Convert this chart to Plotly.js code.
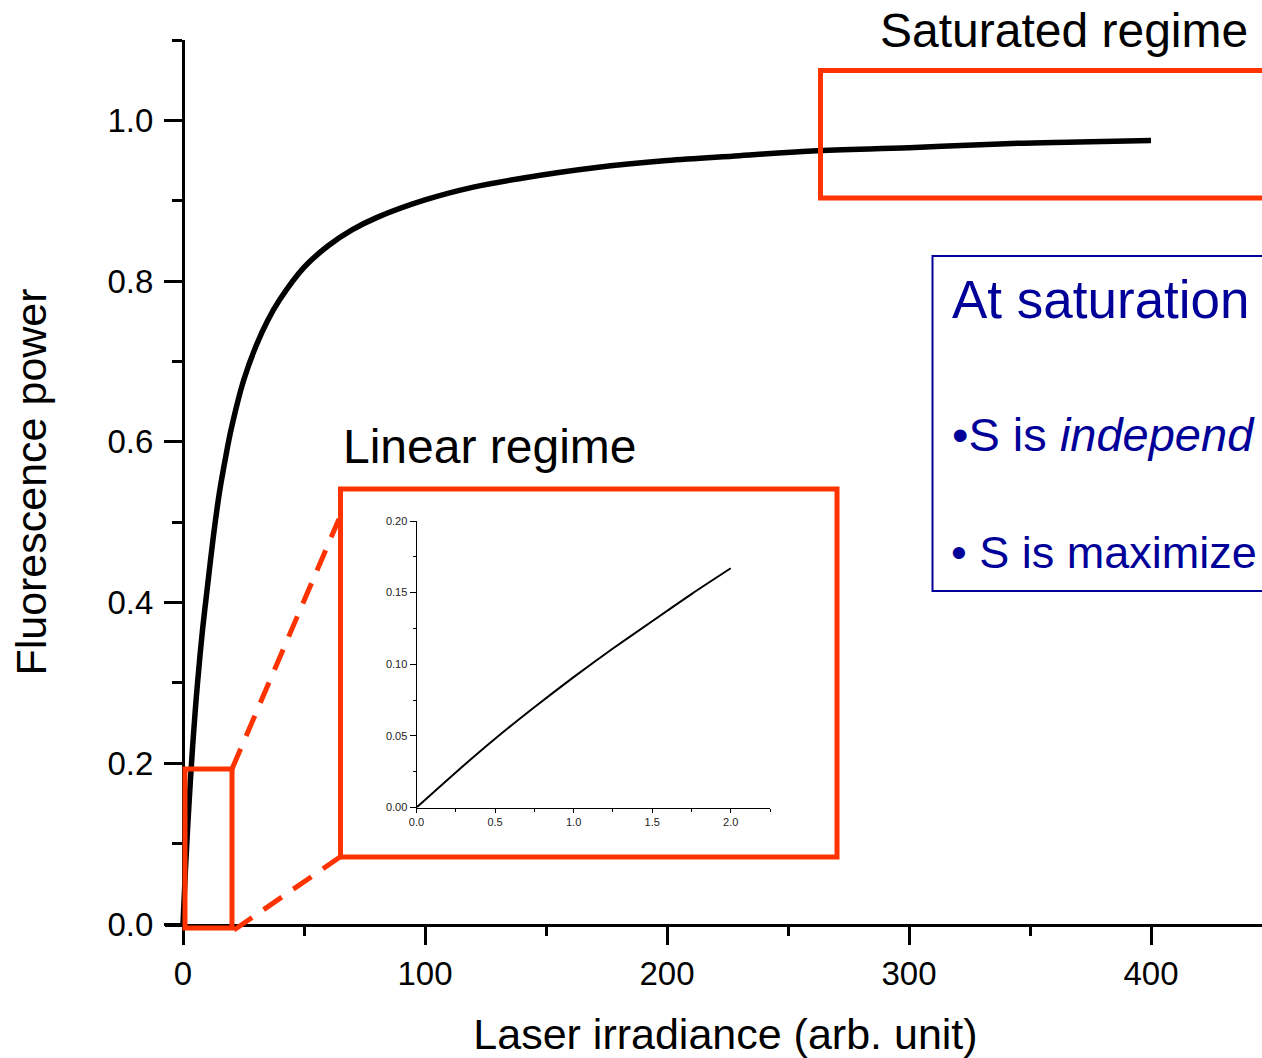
<!DOCTYPE html>
<html>
<head>
<meta charset="utf-8">
<script src="https://cdn.plot.ly/plotly-3.0.1.min.js"></script>
<style>
  html, body { margin: 0; padding: 0; background: #ffffff; overflow: hidden; }
  #chart { width: 1286px; height: 1058px; }
</style>
</head>
<body>
<div id="chart"></div>
<script>
// ---------- data ----------
const mainIrradiance   = [0, 1, 2, 3, 4, 5, 6, 8, 10, 12.5, 15, 17.5, 20, 25, 30, 35, 40, 50, 60, 70, 80, 100, 120, 140, 170, 200, 230, 260, 300, 340, 370, 400];
const mainFluorescence = [0, 0.067, 0.125, 0.176, 0.222, 0.263, 0.300, 0.364, 0.417, 0.481, 0.536, 0.579, 0.617, 0.676, 0.718, 0.751, 0.777, 0.817, 0.844, 0.864, 0.879, 0.901, 0.917, 0.928, 0.941, 0.950, 0.956, 0.962, 0.966, 0.971, 0.973, 0.975];

const insetIrradiance   = [0, 0.25, 0.5, 0.75, 1.0, 1.25, 1.5, 1.75, 2.0];
const insetFluorescence = [0, 0.0245, 0.048, 0.070, 0.091, 0.111, 0.130, 0.149, 0.167];

const mainXTicks  = [0, 100, 200, 300, 400];
const mainYTicks  = [0, 0.2, 0.4, 0.6, 0.8, 1.0];
const insetXTicks = [0, 0.5, 1.0, 1.5, 2.0];
const insetYTicks = [0, 0.05, 0.10, 0.15, 0.20];

const xTitle = 'Laser irradiance (arb. unit)';
const yTitle = 'Fluorescence power';
const labelSaturated = 'Saturated regime';
const labelLinear = 'Linear regime';
const boxTitle = 'At saturation';
const boxLine1 = '\u2022S is <i>independ</i>';
const boxLine2 = '\u2022 S is maximize';

// ---------- layout helpers (pixel -> paper) ----------
const L = 165, T = 40, W = 1121, H = 884, B = T + H;
const px = v => (v - L) / W;
const py = v => (B - v) / H;

const FONT = 'Liberation Sans, Arial, Helvetica, sans-serif';
const RED = '#FF3300';
const BLUE = '#000099';

const traces = [
  {
    x: mainIrradiance, y: mainFluorescence, type: 'scatter', mode: 'lines',
    line: { color: '#000000', width: 5.5, shape: 'spline', smoothing: 1 },
    xaxis: 'x', yaxis: 'y', hoverinfo: 'skip'
  },
  {
    x: insetIrradiance, y: insetFluorescence, type: 'scatter', mode: 'lines',
    line: { color: '#000000', width: 2, shape: 'spline', smoothing: 0.6 },
    xaxis: 'x2', yaxis: 'y2', hoverinfo: 'skip'
  }
];

const layout = {
  width: 1286, height: 1058,
  margin: { l: L, r: 0, t: T, b: 1058 - B, pad: 0 },
  paper_bgcolor: '#ffffff', plot_bgcolor: 'rgba(0,0,0,0)',
  showlegend: false,
  font: { family: FONT, color: '#000000' },
  xaxis: {
    domain: [0, 1], anchor: 'y',
    range: [-(183 - L) / 2.42, (L + W - 183) / 2.42],
    tickvals: mainXTicks, ticktext: mainXTicks.map(String),
    showline: true, linecolor: '#000000', linewidth: 3,
    ticks: 'outside', ticklen: 18, tickwidth: 3, tickcolor: '#000000',
    minor: { dtick: 50, tick0: 0, ticks: 'outside', ticklen: 9, tickwidth: 3, tickcolor: '#000000' },
    showgrid: false, zeroline: false,
    tickfont: { family: FONT, size: 33, color: '#000000' },
    title: { text: xTitle, font: { family: FONT, size: 43, color: '#000000' }, standoff: 29 }
  },
  yaxis: {
    anchor: 'free', position: (183 - L) / W, domain: [0, 1],
    range: [0, 1.1],
    tickvals: mainYTicks, ticktext: mainYTicks.map(v => v.toFixed(1)),
    showline: true, linecolor: '#000000', linewidth: 3,
    ticks: 'outside', ticklen: 18, tickwidth: 3, tickcolor: '#000000',
    ticklabelstandoff: 4,
    minor: { dtick: 0.1, tick0: 0, ticks: 'outside', ticklen: 10, tickwidth: 3, tickcolor: '#000000' },
    showgrid: false, zeroline: false,
    tickfont: { family: FONT, size: 33, color: '#000000' },
    title: { text: yTitle, font: { family: FONT, size: 43, color: '#000000' }, standoff: 46 }
  },
  xaxis2: {
    domain: [px(416.5), px(770)], anchor: 'y2',
    range: [0, 2.25],
    tickvals: insetXTicks, ticktext: insetXTicks.map(v => v.toFixed(1)),
    showline: true, linecolor: '#000000', linewidth: 1,
    ticks: 'outside', ticklen: 4, tickwidth: 1, tickcolor: '#000000',
    minor: { dtick: 0.25, tick0: 0, ticks: 'outside', ticklen: 3, tickwidth: 1, tickcolor: '#000000' },
    showgrid: false, zeroline: false,
    tickfont: { family: FONT, size: 11, color: '#222222' }
  },
  yaxis2: {
    domain: [py(807.5), py(521)], anchor: 'x2',
    range: [0, 0.2],
    tickvals: insetYTicks, ticktext: insetYTicks.map(v => v.toFixed(2)),
    showline: true, linecolor: '#000000', linewidth: 1,
    ticks: 'outside', ticklen: 6, tickwidth: 1, tickcolor: '#000000',
    minor: { dtick: 0.025, tick0: 0, ticks: 'outside', ticklen: 3, tickwidth: 1, tickcolor: '#000000' },
    showgrid: false, zeroline: false,
    tickfont: { family: FONT, size: 11, color: '#222222' }
  },
  shapes: [
    // small box around the linear region
    { type: 'rect', xref: 'paper', yref: 'paper', x0: px(185), x1: px(232), y0: py(928), y1: py(769),
      line: { color: RED, width: 5 }, fillcolor: 'rgba(0,0,0,0)', layer: 'above' },
    // dashed connectors
    { type: 'line', xref: 'paper', yref: 'paper', x0: px(232), y0: py(769), x1: px(339), y1: py(519),
      line: { color: RED, width: 5, dash: '22px,14px' }, layer: 'above' },
    { type: 'line', xref: 'paper', yref: 'paper', x0: px(234), y0: py(930), x1: px(340), y1: py(857),
      line: { color: RED, width: 5, dash: '22px,14px' }, layer: 'above' },
    // inset frame
    { type: 'rect', xref: 'paper', yref: 'paper', x0: px(340.5), x1: px(837), y0: py(857), y1: py(489),
      line: { color: RED, width: 5 }, fillcolor: 'rgba(0,0,0,0)', layer: 'above' },
    // saturated regime box
    { type: 'rect', xref: 'paper', yref: 'paper', x0: px(820.5), x1: px(1320), y0: py(198), y1: py(70.5),
      line: { color: RED, width: 5 }, fillcolor: 'rgba(0,0,0,0)', layer: 'above' },
    // blue text box
    { type: 'rect', xref: 'paper', yref: 'paper', x0: px(932.5), x1: px(1320), y0: py(591), y1: py(256),
      line: { color: BLUE, width: 2 }, fillcolor: 'rgba(0,0,0,0)', layer: 'above' }
  ],
  annotations: [
    { xref: 'paper', yref: 'paper', x: px(878), y: py(30), xanchor: 'left', yanchor: 'middle',
      text: labelSaturated, showarrow: false, font: { family: FONT, size: 48, color: '#000000' } },
    { xref: 'paper', yref: 'paper', x: px(341), y: py(446), xanchor: 'left', yanchor: 'middle',
      text: labelLinear, showarrow: false, font: { family: FONT, size: 48, color: '#000000' } },
    { xref: 'paper', yref: 'paper', x: px(950), y: py(300), xanchor: 'left', yanchor: 'middle',
      text: boxTitle, showarrow: false, font: { family: FONT, size: 53, color: BLUE } },
    { xref: 'paper', yref: 'paper', x: px(950), y: py(434), xanchor: 'left', yanchor: 'middle',
      text: boxLine1, showarrow: false, font: { family: FONT, size: 47, color: BLUE } },
    { xref: 'paper', yref: 'paper', x: px(949), y: py(552), xanchor: 'left', yanchor: 'middle',
      text: boxLine2, showarrow: false, font: { family: FONT, size: 45, color: BLUE } }
  ]
};

Plotly.newPlot('chart', traces, layout, { staticPlot: true, displayModeBar: false });
</script>
</body>
</html>
